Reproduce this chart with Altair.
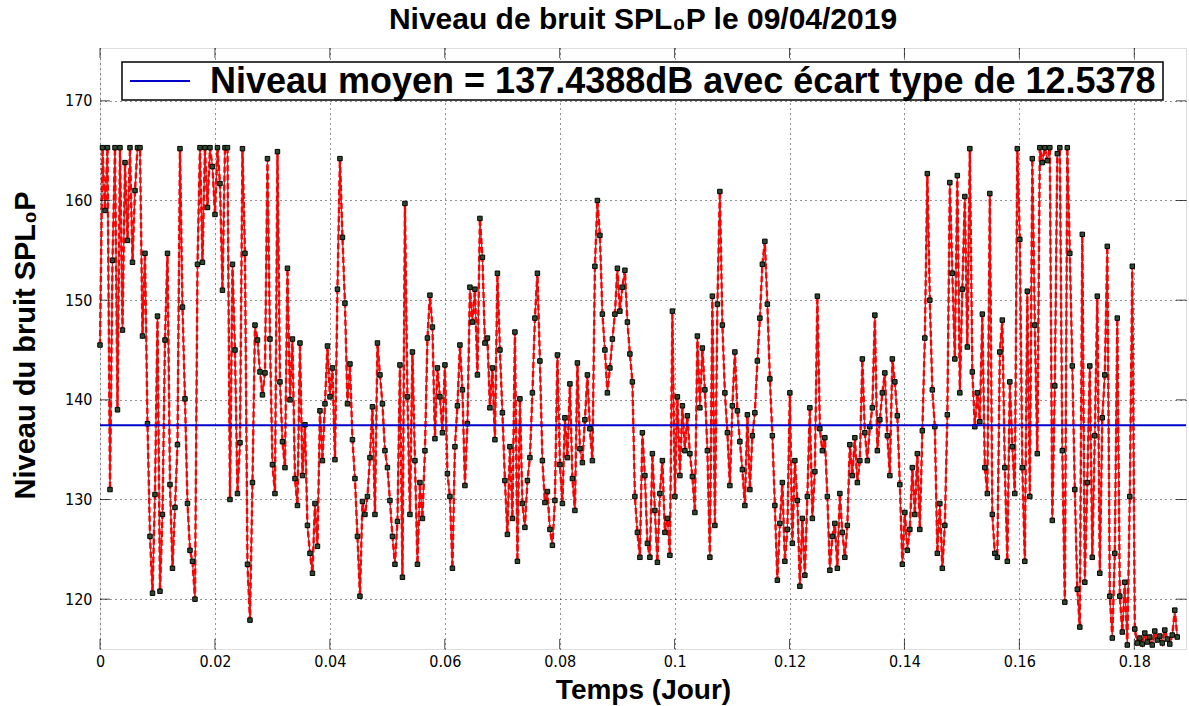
import altair as alt
import pandas as pd

# ---- data (regular sampling, 8 samples per 0.00348 day) ----
DT = 0.000435
SPL = [
    145.5, 165.3, 159, 165.3, 131, 154, 165.3, 139,
    165.3, 147, 163.8, 156, 165.3, 153.8, 161, 165.3,
    165.3, 146.4, 154.7, 137.6, 126.3, 120.6, 130.5, 148.4,
    120.8, 128.5, 146, 154.7, 131.5, 123.1, 129.2, 135.5,
    165.2, 149.3, 140.1, 129.6, 124.9, 123.8, 120, 153.6,
    165.3, 153.8, 165.3, 159.3, 165.3, 163.4, 158.6, 165.3,
    161.7, 151, 165.3, 165.3, 130, 153.6, 145, 130.6,
    135.7, 165.2, 154.7, 123.5, 117.9, 131.7, 147.5, 146,
    142.8, 140.5, 142.7, 164.2, 146.1, 133.5, 130.6, 164.9,
    141.8, 135.8, 133.2, 153.2, 140, 146.1, 132.1, 129.4,
    145.7, 132.4, 137.5, 127.4, 124.6, 122.6, 129.6, 125.3,
    138.9, 133.9, 139.6, 145.4, 140.3, 143.2, 134, 151.1,
    164.2, 156.3, 149.7, 139.6, 143.6, 136, 132.1, 126.3,
    120.3, 129.8, 128.5, 130.3, 134.2, 139.3, 128.5, 145.7,
    142.5, 139.6, 134.9, 133.2, 129.9, 126.3, 123.5, 127.8,
    143.5, 122.2, 159.7, 140.3, 128.5, 144.8, 133.9, 123.5,
    131.7, 128.1, 134.9, 146.2, 150.5, 147.3, 136.1, 143.2,
    140.3, 136.7, 143.5, 132.6, 130.3, 123.1, 135.3, 139.4,
    145.5, 141, 131.4, 137.6, 151.3, 147.8, 151.1, 142.5,
    158.2, 154.3, 145.7, 146.2, 139.2, 143.2, 136, 152.7,
    145, 138.7, 131.9, 126.5, 135.3, 128.1, 146.8, 123.8,
    140.1, 129.6, 127.2, 131.9, 134.2, 140.7, 148.2, 152.7,
    143.9, 133.9, 129.7, 130.8, 127, 125.4, 129.9, 144.5,
    133.5, 129.6, 138.2, 134.2, 141.6, 132.1, 128.9, 143.7,
    135.1, 133.7, 138, 142.5, 137.1, 133.9, 153.4, 160,
    156.5, 148.6, 145, 140.7, 143.2, 146.1, 148.6, 153.2,
    148.9, 151.3, 153, 147.8, 144.6, 141.8, 130.3, 126.7,
    124.2, 136.7, 132.4, 125.6, 124.2, 134.6, 128.9, 123.7,
    130.6, 133.9, 126.7, 128.1, 124.4, 148.9, 130.3, 140.3,
    132.4, 139.4, 134.9, 138.4, 134.6, 132.3, 128.7, 146.4,
    139.2, 145.2, 141, 134.9, 124.2, 150.4, 127.4, 149.6,
    160.9, 147.5, 140.7, 136.7, 131.4, 139.4, 144.8, 138.9,
    135.8, 133, 129.4, 138.5, 131, 136.4, 138.7, 143.9,
    148.2, 153.6, 155.9, 149.6, 142.1, 136.4, 129.4, 121.9,
    127.6, 131.7, 123.8, 127, 140.7, 125.6, 133.9, 129.9,
    121.3, 128.1, 122.4, 130.3, 139.2, 128.1, 132.8, 150.4,
    137.1, 134.9, 136.2, 130.3, 122.9, 126.3, 127.6, 123.1,
    130.6, 126.7, 124.2, 127.4, 135.5, 132.4, 136.2, 131.7,
    133.9, 144.1, 136.7, 133.9, 137.3, 139.2, 148.5, 134.9,
    138, 140.7, 142.7, 136.4, 132.4, 144.1, 141.8, 138.4,
    131.5, 123.5, 128.7, 124.9, 127, 133.2, 128.5, 134.6,
    127, 136.9, 146.2, 162.7, 150, 141, 137.3, 124.6,
    129.6, 123.1, 127.4, 138.5, 161.8, 152.7, 144.1, 162.5,
    140.7, 151.1, 160.4, 145.3, 165.2, 142.8, 137.3, 140.7,
    137.8, 148.6, 133.2, 130.6, 160.7, 128.5, 124.6, 124.2,
    144.8, 148, 133.2, 123.8, 141.8, 135.3, 130.6, 165.2,
    156.1, 133.2, 123.8, 150.9, 130.3, 164.2, 147.5, 134.6,
    165.3, 163.8, 165.3, 164, 165.3, 127.9, 141.4, 164.7,
    165.3, 134.9, 119.7, 165.3, 154.7, 143.4, 131, 121,
    117.2, 156.6, 121.7, 131.7, 143.4, 124.2, 136.4, 150.4,
    122.6, 138.2, 142.5, 155.4, 120.3, 116.1, 124.6, 148.2,
    120.3, 116.7, 121.7, 115.4, 130.3, 153.4, 117, 115.6,
    116.1, 115.5, 116.6, 115.7, 116.2, 115.4, 116.8, 115.9,
    116.3, 115.6, 116.9, 116.0, 115.5, 116.4, 118.9, 116.2,
]
TIME = [round(i * DT, 6) for i in range(len(SPL))]
MEAN = 137.4388
X_TICKS = [0, 0.02, 0.04, 0.06, 0.08, 0.1, 0.12, 0.14, 0.16, 0.18]
Y_TICKS = [120, 130, 140, 150, 160, 170]
TITLE = "Niveau de bruit SPL\u2080P le 09/04/2019"
Y_TITLE = "Niveau du bruit SPL\u2080P"
X_TITLE = "Temps (Jour)"
LEGEND_LABEL = "Niveau moyen = 137.4388dB avec \u00e9cart type de 12.5378"

W, H = 1086, 601
df = pd.DataFrame({"t": TIME, "v": SPL})
xt = pd.DataFrame({"t": X_TICKS})
yt = pd.DataFrame({"v": Y_TICKS})

xs = alt.Scale(domain=[0, 0.189], nice=False, zero=False)
ys = alt.Scale(domain=[115, 175.3], nice=False, zero=False)

NARROW = "DejaVu Sans Condensed, Liberation Sans, Arial, sans-serif"
BOLD = "Liberation Sans, Arial, sans-serif"

x_enc = alt.X("t:Q", scale=xs, axis=alt.Axis(
    values=X_TICKS, format=".2~f", grid=True, ticks=False, domain=False,
    labelFont=NARROW, labelFontSize=16, labelPadding=4, labelColor="black",
    labelFlush=False,
    title=X_TITLE, titleFont=BOLD, titleFontSize=28, titleFontWeight="bold",
    titleColor="black", titleX=W / 2, titleY=41, titleBaseline="middle",
    gridDash=[1, 4], gridColor="black", gridOpacity=0.85, gridWidth=1))
y_enc = alt.Y("v:Q", scale=ys, axis=alt.Axis(
    values=Y_TICKS, grid=True, ticks=False, domain=False,
    labelFont=NARROW, labelFontSize=16, labelPadding=8, labelColor="black",
    title=Y_TITLE, titleFont=BOLD, titleFontSize=29, titleFontWeight="bold",
    titleColor="black", titleAngle=270, titleX=-75, titleY=297,
    titleAlign="center", titleBaseline="middle",
    gridDash=[1, 4], gridColor="black", gridOpacity=0.85, gridWidth=1))

solid = alt.Chart(df).mark_line(color="#b83030", strokeWidth=1.3).encode(x=x_enc, y=y_enc)
dashed = alt.Chart(df).mark_line(color="#ff0000", strokeWidth=2.4, strokeDash=[6, 3]).encode(
    x=alt.X("t:Q", scale=xs), y=alt.Y("v:Q", scale=ys))
pts = alt.Chart(df).mark_square(size=20, fill="#2f4a2f", stroke="black", strokeWidth=1, opacity=1).encode(
    x=alt.X("t:Q", scale=xs), y=alt.Y("v:Q", scale=ys))
mean_rule = alt.Chart(alt.Data(values=[{}])).mark_rule(color="#0000cc", strokeWidth=2).encode(
    y=alt.datum(MEAN, scale=ys))

xtick_b = alt.Chart(xt).mark_tick(orient="vertical", size=10, thickness=1, color="black").encode(
    x=alt.X("t:Q", scale=xs), y=alt.value(H - 5))
xtick_t = alt.Chart(xt).mark_tick(orient="vertical", size=10, thickness=1, color="black").encode(
    x=alt.X("t:Q", scale=xs), y=alt.value(5))
ytick_l = alt.Chart(yt).mark_tick(orient="horizontal", size=10, thickness=1, color="black").encode(
    y=alt.Y("v:Q", scale=ys), x=alt.value(5))
ytick_r = alt.Chart(yt).mark_tick(orient="horizontal", size=10, thickness=1, color="black").encode(
    y=alt.Y("v:Q", scale=ys), x=alt.value(W - 5))

one = alt.Data(values=[{}])
leg_box = alt.Chart(one).mark_rect(fill="white", stroke="black", strokeWidth=1.5).encode(
    x=alt.value(22), x2=alt.value(1063), y=alt.value(14), y2=alt.value(52))
leg_sym = alt.Chart(one).mark_rule(color="#0000cc", strokeWidth=2).encode(
    x=alt.value(30), x2=alt.value(90), y=alt.value(33))
leg_txt = alt.Chart(one).mark_text(align="left", baseline="middle", font=BOLD, fontSize=36,
                                   fontWeight="bold", color="black").encode(
    x=alt.value(110), y=alt.value(34), text=alt.value(LEGEND_LABEL))
title_txt = alt.Chart(one).mark_text(align="center", baseline="middle", font=BOLD, fontSize=30,
                                     fontWeight="bold", color="black").encode(
    x=alt.value(W / 2), y=alt.value(-28), text=alt.value(TITLE))

chart = alt.layer(
    solid, dashed, pts, mean_rule, xtick_b, xtick_t, ytick_l, ytick_r,
    leg_box, leg_sym, leg_txt, title_txt
).properties(
    width=W, height=H,
    autosize=alt.AutoSizeParams(type="none"),
    padding={"left": 100, "top": 48, "right": 3, "bottom": 57},
).configure_view(stroke="black", strokeWidth=1.5).configure(background="white")

chart.save("out.html", embed_options={"renderer": "svg", "actions": False})
